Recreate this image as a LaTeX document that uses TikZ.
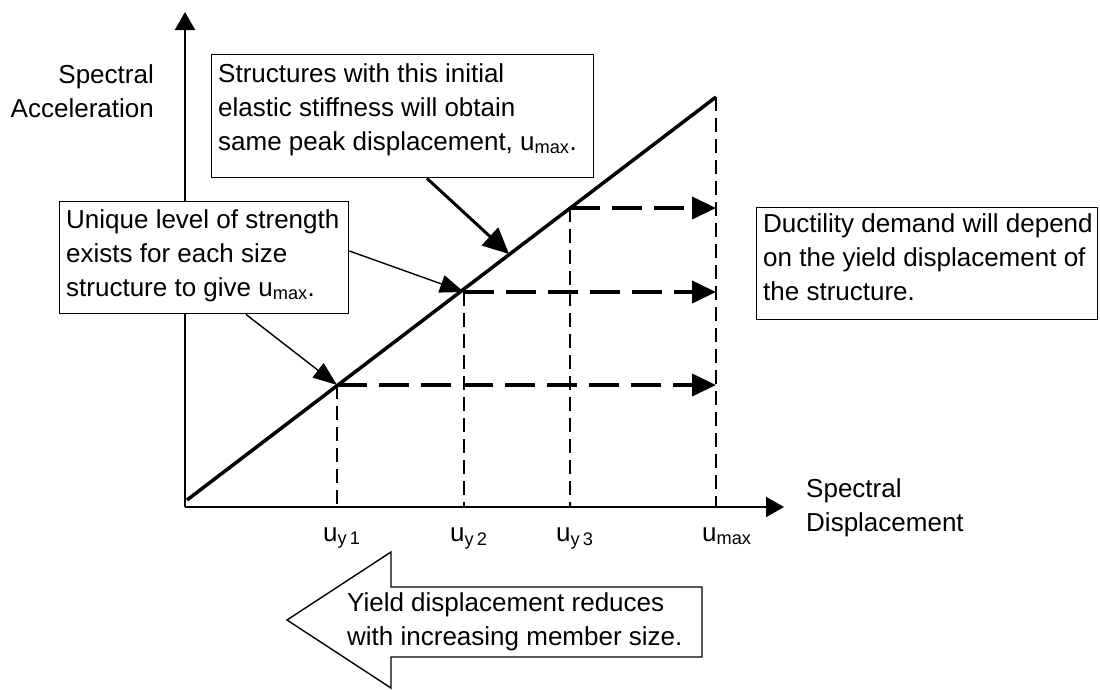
\documentclass[tikz,border=0pt]{standalone}
\usepackage{fontspec}
\setmainfont{Liberation Sans}
\usetikzlibrary{arrows.meta,positioning,calc}

\begin{document}
\begin{tikzpicture}[x=1pt,y=-1pt,
    txt/.style={font=\fontsize{26}{34}\selectfont, align=left, inner sep=0pt},
    notebox/.style={rectangle, draw, fill=white, line width=1.4pt, anchor=north west},
    axis/.style={line width=2pt, -{Triangle[length=18pt,width=20pt]}},
    stiffline/.style={line width=3.5pt},
    reach/.style={line width=4pt, dash pattern=on 30pt off 12pt, -{Triangle[length=24pt,width=22pt]}},
    drop/.style={line width=1.3pt, dash pattern=on 14pt off 7pt},
    ptr/.style={line width=1.4pt, -{Triangle[length=24pt,width=18pt]}},
    bigptr/.style={line width=3pt, -{Triangle[length=26pt,width=24pt]}}
  ]
  \useasboundingbox (0,0) rectangle (1100,689);

  % Axes
  \coordinate (o) at (185,507);
  \coordinate (ytop) at (185,12);
  \coordinate (xend) at (784,507);
  \draw[axis] (o) -- (ytop);
  \draw[axis] (o) -- (xend);
  % (base = last line)
  \node[txt, align=right, anchor=base east] (ylab) at (154,117) {Spectral\\Acceleration};
  \node[txt, anchor=base west] (xlab) at (806,531) {Spectral\\Displacement};

  % Elastic stiffness line and yield points
  \coordinate (start) at (187,500);
  \coordinate (p1) at (337,385);
  \coordinate (p2) at (464,292);
  \coordinate (p3) at (570,208);
  \coordinate (top) at (716,97);
  \coordinate (hit) at (509,254);
  \draw[stiffline] (start) -- (top);

  \foreach \p/\lab in {p1/{u\textsubscript{y\,1}}, p2/{u\textsubscript{y\,2}}, p3/{u\textsubscript{y\,3}}, top/{u\textsubscript{max}}}{
    \draw[drop] (\p) -- (\p |- o);
    \node[txt, anchor=base west] (tick-\p) at ([xshift=-14pt]\p |- 0,541) {\lab};
  }
  \foreach \p in {p1,p2,p3}
    \draw[reach] (\p) -- (\p -| top);

  % Notes
  \node[notebox, minimum width=382, minimum height=123] (stiff) at (211,54) {};
  \node[txt, anchor=base west] (stifftxt) at (218,150)
    {Structures with this initial\\elastic stiffness will obtain\\same peak displacement, u\textsubscript{max}.};

  \node[notebox, minimum width=289, minimum height=112] (unique) at (59,201) {};
  \node[txt, anchor=base west] (uniquetxt) at (66,296)
    {Unique level of strength\\exists for each size\\structure to give u\textsubscript{max}.};

  \node[notebox, minimum width=341, minimum height=112] (duct) at (756,207) {};
  \node[txt, anchor=base west] (ducttxt) at (763,300)
    {Ductility demand will depend\\on the yield displacement of\\the structure.};

  \draw[bigptr] (stiff.south -| 427,0) -- (hit);
  \draw[ptr] (unique.east |- 0,251) -- (p2);
  \draw[ptr] (unique.south -| 246,0) -- (p1);

  % Member size arrow
  \draw[line width=1.4pt] (287,620) -- (391,552) -- (391,587) -- (702,587)
    -- (702,657) -- (391,657) -- (391,688) -- cycle;
  \node[txt, anchor=base west] (sizetxt) at (347,645)
    {Yield displacement reduces\\with increasing member size.};
\end{tikzpicture}
\end{document}
